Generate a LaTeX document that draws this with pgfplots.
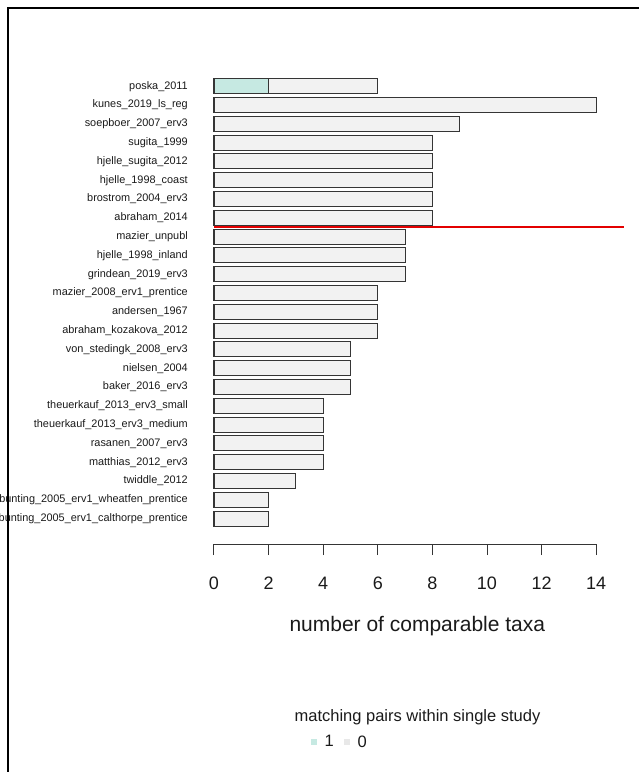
\documentclass[border=0pt]{standalone}
\usepackage{pgfplots}
\pgfplotsset{compat=1.18}
\usepackage{fontspec}
\setmainfont{Liberation Sans}
\definecolor{tealfill}{HTML}{C6E9E2}
\definecolor{greyfill}{HTML}{F2F2F2}
\definecolor{barline}{HTML}{353535}
\definecolor{txt}{HTML}{1A1A1A}
\definecolor{redline}{HTML}{E30000}
\pgfplotstableread{
y x
0 2
1 2
2 3
3 4
4 4
5 4
6 4
7 5
8 5
9 5
10 6
11 6
12 6
13 7
14 7
15 7
16 8
17 8
18 8
19 8
20 8
21 9
22 14
23 6
}\totaltaxa
\pgfplotstableread{
y x
23 2
}\matchtaxa
\begin{document}
\begin{tikzpicture}[x=1pt,y=1pt]
\useasboundingbox (0,0) rectangle (639,772);
\begin{axis}[
  at={(214pt,228pt)}, anchor=south west,
  scale only axis, width=382.2pt, height=476.6pt,
  xmin=0, xmax=14, ymin=-1.35, ymax=24,
  axis x line*=bottom, axis y line*=left,
  y axis line style={draw=none},
  x axis line style={line width=1pt, color=barline, -},
  xtick={0,2,...,14},
  tick align=outside,
  major tick length=11pt,
  xtick style={line width=1pt, color=barline},
  ytick style={draw=none},
  ytick={0,...,23},
  yticklabels={bunting\_2005\_erv1\_calthorpe\_prentice, bunting\_2005\_erv1\_wheatfen\_prentice, twiddle\_2012, matthias\_2012\_erv3, rasanen\_2007\_erv3, theuerkauf\_2013\_erv3\_medium, theuerkauf\_2013\_erv3\_small, baker\_2016\_erv3, nielsen\_2004, von\_stedingk\_2008\_erv3, abraham\_kozakova\_2012, andersen\_1967, mazier\_2008\_erv1\_prentice, grindean\_2019\_erv3, hjelle\_1998\_inland, mazier\_unpubl, abraham\_2014, brostrom\_2004\_erv3, hjelle\_1998\_coast, hjelle\_sugita\_2012, sugita\_1999, soepboer\_2007\_erv3, kunes\_2019\_ls\_reg, poska\_2011},
  yticklabel style={font=\fontsize{10.9}{12}\selectfont, text=txt, anchor=east, inner sep=0pt, xshift=-15pt},
  xticklabel style={font=\fontsize{18}{20}\selectfont, text=txt, anchor=base, inner sep=0pt, yshift=-34pt},
  /pgf/number format/assume math mode=true,
  xlabel={number of comparable taxa},
  xlabel style={font=\fontsize{21}{24}\selectfont, text=txt, at={(axis description cs:0.532,0)}, anchor=base, inner sep=0pt, yshift=-87pt},
  legend style={draw=none, fill=none, font=\fontsize{16.5}{18}\selectfont, text=txt, legend columns=2, at={(axis description cs:0.329,-0.4155)}, anchor=center, /tikz/every even column/.append style={column sep=8pt}},
  clip=false,
]
\addplot[xbar, bar width=15pt, bar shift=0pt, fill=greyfill, draw=barline, line width=1.1pt, forget plot] table[x=x, y=y] {\totaltaxa};
\addplot[xbar, bar width=15pt, bar shift=0pt, fill=tealfill, draw=barline, line width=1.1pt, forget plot] table[x=x, y=y] {\matchtaxa};
\addplot[draw=redline, color=redline, line width=1.5pt, forget plot] coordinates {(0,15.5) (15,15.5)};
\addlegendimage{legend image code/.code={\fill[tealfill, draw=none] (0pt,-3pt) rectangle (6pt,3pt); \path[draw=none, fill=none] (0pt,0pt) rectangle (12pt,0pt);}}
\addlegendentry{1}
\addlegendimage{legend image code/.code={\fill[greyfill!96!black, draw=none] (0pt,-3pt) rectangle (6pt,3pt); \path[draw=none, fill=none] (0pt,0pt) rectangle (12pt,0pt);}}
\addlegendentry{0}
\end{axis}
\node[font=\fontsize{16.5}{18}\selectfont, text=txt] at (417.5,55) {matching pairs within single study};
\draw[line width=2pt, black] (8,0) -- (8,764) -- (639,764);
\end{tikzpicture}
\end{document}
